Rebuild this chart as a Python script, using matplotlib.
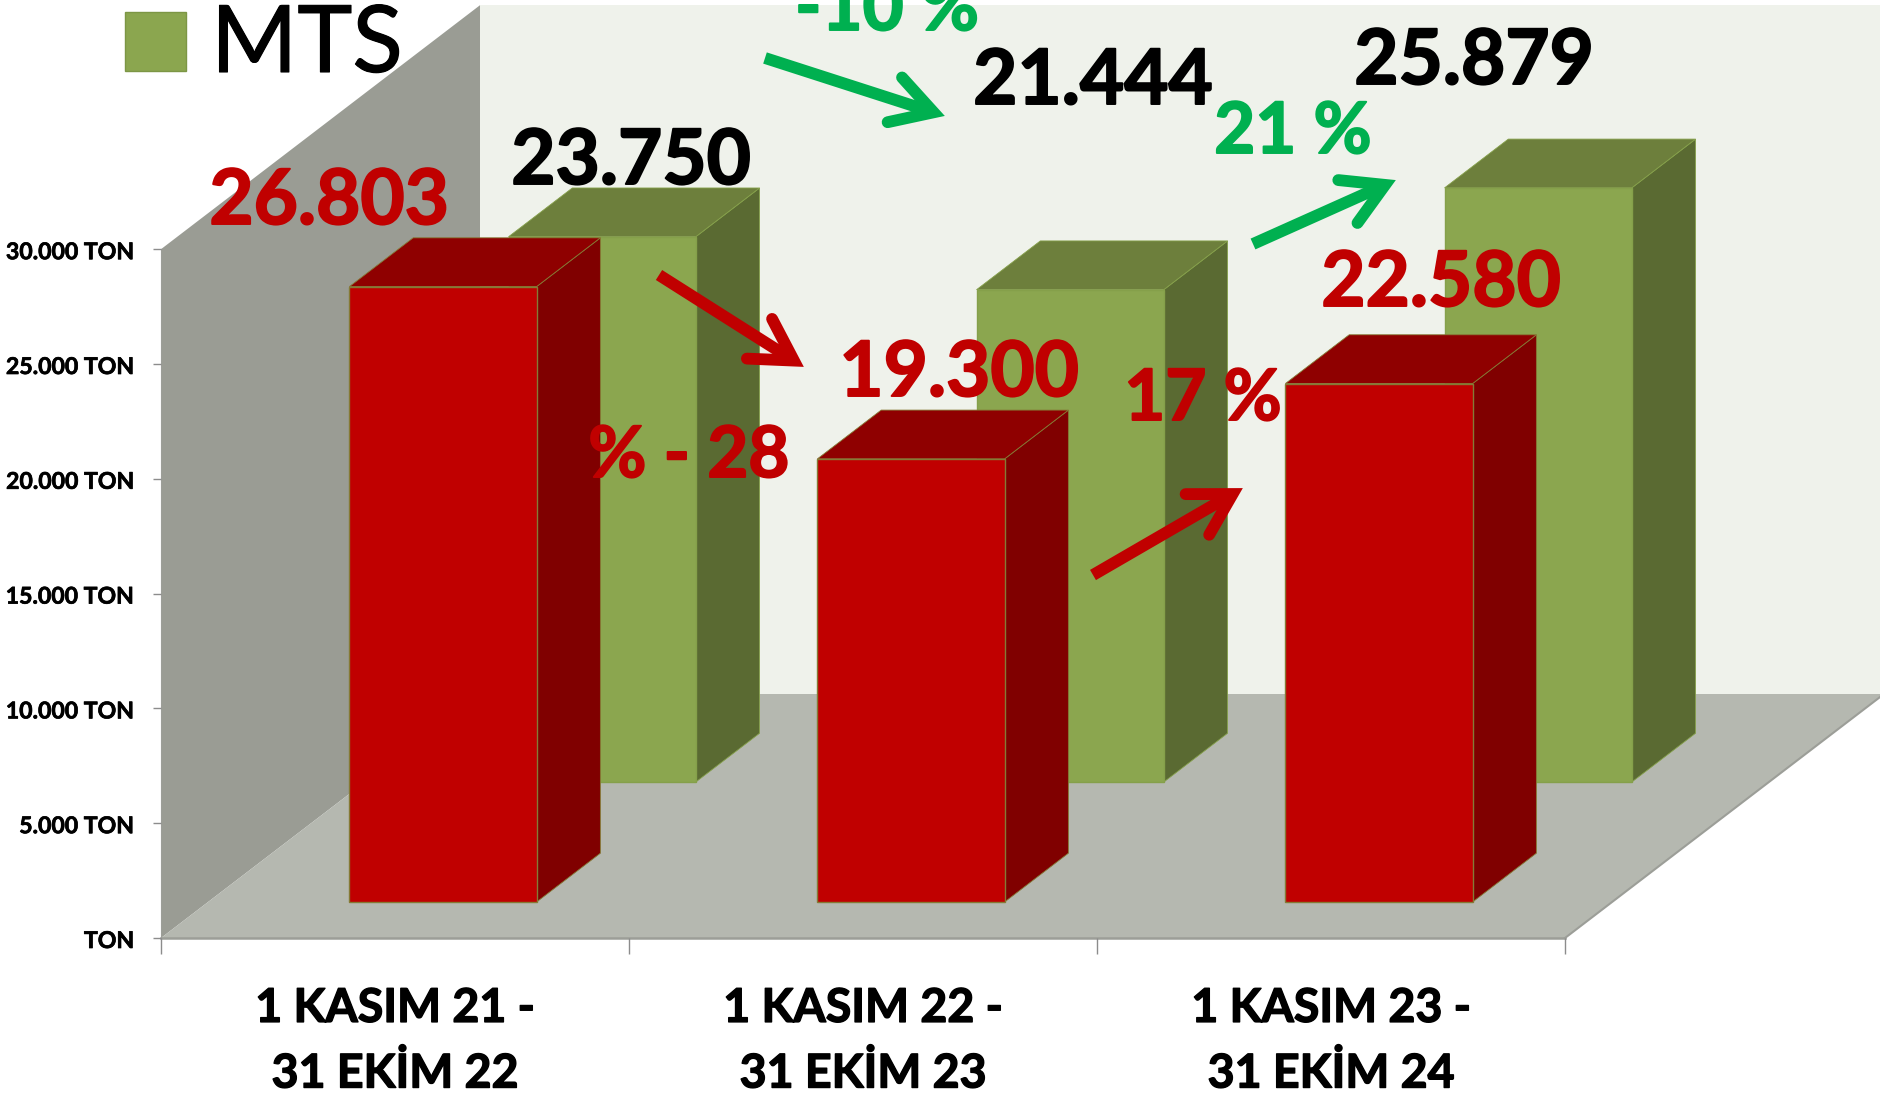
import numpy as np
import matplotlib
matplotlib.use("Agg")
import matplotlib.pyplot as plt
import matplotlib.patheffects as pe
from matplotlib.patches import Polygon
from matplotlib.transforms import ScaledTranslation

plt.rcParams["font.family"] = ["Lato", "DejaVu Sans"]

W, H = 1881, 1095

categories = ["1 KASIM 21 -\n31 EKİM 22", "1 KASIM 22 -\n31 EKİM 23", "1 KASIM 23 -\n31 EKİM 24"]
red_values = [26803, 19300, 22580]
green_values = [23750, 21444, 25879]
y_ticks = [0, 5000, 10000, 15000, 20000, 25000, 30000]
y_labels = ["TON", "5.000 TON", "10.000 TON", "15.000 TON", "20.000 TON", "25.000 TON", "30.000 TON"]
red_labels = ["26.803", "19.300", "22.580"]
green_labels = ["23.750", "21.444", "25.879"]
red_changes = ["% - 28", "17 %"]
green_changes = ["-10 %", "21 %"]
legend_label = "MTS"

# pixel layout of the fake 3d box
X0, Y0 = 161, 938
CAT_PX = 468
TON_PX = 114.8 / 5000
DEPTH_X = 319 / CAT_PX
DEPTH_Y = 244 / TON_PX


def proj(x, h, d):
    # category position, height in tons, depth 0..1 -> flat data coords
    return (x + d * DEPTH_X, h + d * DEPTH_Y)


def box(ax, x, width, h, d0, d1, front, side, top, edge):
    ax.add_patch(Polygon([proj(x + width, 0, d0), proj(x + width, 0, d1), proj(x + width, h, d1), proj(x + width, h, d0)],
                         fc=side, ec=edge, lw=0.6))
    ax.add_patch(Polygon([proj(x, h, d0), proj(x + width, h, d0), proj(x + width, h, d1), proj(x, h, d1)],
                         fc=top, ec=edge, lw=0.6))
    ax.add_patch(Polygon([proj(x, 0, d0), proj(x + width, 0, d0), proj(x + width, h, d0), proj(x, h, d0)],
                         fc=front, ec=edge, lw=1.0))


def arrow(ov, x0, y0, x1, y1, color, lw=8.5, barb=47, spread=30):
    ang = np.arctan2(y0 - y1, x0 - x1)
    a1 = ang + np.radians(spread)
    a2 = ang - np.radians(spread)
    # x1, y1 is the outer tip, the mitre sticks out past the path corner
    cx = x1 + 12 * np.cos(ang)
    cy = y1 + 12 * np.sin(ang)
    ov.plot([x0, cx], [y0, cy], color=color, lw=lw, solid_capstyle="butt")
    ov.plot([cx + barb * np.cos(a1), cx, cx + barb * np.cos(a2)],
            [cy + barb * np.sin(a1), cy, cy + barb * np.sin(a2)],
            color=color, lw=lw, solid_capstyle="round", solid_joinstyle="miter")


def heavy(t, color, lw=1.4):
    # Lato bold is lighter than the original lettering
    t.set_path_effects([pe.withStroke(linewidth=lw, foreground=color)])


fig = plt.figure(figsize=(W / 100, H / 100), dpi=100, facecolor="white")
ax = fig.add_axes([0, 0, 1, 1])
ax.set_xlim(-X0 / CAT_PX, (W - X0) / CAT_PX)
ax.set_ylim(-(H - Y0) / TON_PX, Y0 / TON_PX)
ax.patch.set_visible(False)

# walls and floor
top_v = y_ticks[-1]
n = len(categories)
ax.add_patch(Polygon([proj(0, 0, 1), proj(n, 0, 1), proj(n, top_v, 1), proj(0, top_v, 1)], fc="#EFF2EB", ec="none"))
ax.add_patch(Polygon([proj(0, 0, 0), proj(0, 0, 1), proj(0, top_v, 1), proj(0, top_v, 0)], fc="#9A9C94", ec="none"))
ax.add_patch(Polygon([proj(0, 0, 0), proj(n, 0, 0), proj(n, 0, 1), proj(0, 0, 1)], fc="#B5B8B0", ec="none"))
ax.plot(*zip(proj(n, 0, 0), proj(n, 0, 1)), color="#9C9E98", lw=1.5)

for i, v in enumerate(green_values):
    box(ax, i + 0.307, 0.4, v, 0.639, 0.839, "#8BA64F", "#5A6A32", "#6D7F3C", "#85A04A")
for i, v in enumerate(red_values):
    box(ax, i + 0.302, 0.4, v, 0.1475, 0.3475, "#C00000", "#800000", "#8F0000", "#857A35")

# axis lines and ticks
for s in ["top", "right"]:
    ax.spines[s].set_visible(False)
ax.spines["left"].set_position(("data", 0))
ax.spines["left"].set_bounds(0, top_v)
ax.spines["bottom"].set_position(("data", 0))
ax.spines["bottom"].set_bounds(0, n)
ax.spines["left"].set_color("#9C9E98")
ax.spines["bottom"].set_color("#9C9E98")
ax.spines["bottom"].set_linewidth(1.8)
ax.set_yticks(y_ticks)
ax.set_yticklabels(y_labels, fontsize=16.6, fontweight="bold", color="black")
ax.tick_params(axis="y", length=5.8, width=1, color="#8C8C8C", pad=13.5)
ax.set_xticks(range(n + 1))
ax.set_xticklabels([])
ax.tick_params(axis="x", which="major", length=11.5, width=1, color="#8C8C8C")
ax.set_xticks(np.arange(n) + 0.5, minor=True)
ax.set_xticklabels(categories, minor=True, fontsize=33.5, fontweight="bold", linespacing=1.6)
ax.tick_params(axis="x", which="minor", length=0, pad=34.5)
ax.set_axisbelow(False)

shift = ScaledTranslation(0, -1.5 / 100, fig.dpi_scale_trans)
for t in ax.get_yticklabels():
    t.set_transform(t.get_transform() + shift)
    heavy(t, "black", 0.5)
for t in ax.get_xticklabels(minor=True):
    heavy(t, "black", 1.0)

# overlay in image pixels for the hand placed labels and arrows
ov = fig.add_axes([0, 0, 1, 1])
ov.set_xlim(0, W)
ov.set_ylim(H, 0)
ov.axis("off")

ov.add_patch(Polygon([(125, 12), (186, 12), (186, 71), (125, 71)], fc="#8BA64F", ec="#7C9645", lw=1))
t = ov.text(211, 72, legend_label, fontsize=67, color="black", ha="left", va="baseline")
heavy(t, "black", 0.8)

red_pos = [(329, 224), (959, 396), (1441, 306)]
green_pos = [(631, 184), (1093, 104), (1474, 84)]
for s, (x, y) in zip(red_labels, red_pos):
    t = ov.text(x, y, s, fontsize=55, fontweight="bold", color="#C00000", ha="center", va="baseline")
    heavy(t, "#C00000")
for s, (x, y) in zip(green_labels, green_pos):
    t = ov.text(x, y, s, fontsize=55, fontweight="bold", color="black", ha="center", va="baseline")
    heavy(t, "black")

red_change_pos = [(689, 477), (1203, 420)]
green_change_pos = [(887, 30), (1293, 153)]
for s, (x, y) in zip(red_changes, red_change_pos):
    t = ov.text(x, y, s, fontsize=51, fontweight="bold", color="#C00000", ha="center", va="baseline")
    heavy(t, "#C00000")
for s, (x, y) in zip(green_changes, green_change_pos):
    t = ov.text(x, y, s, fontsize=51, fontweight="bold", color="#00B050", ha="center", va="baseline")
    heavy(t, "#00B050")

arrow(ov, 765, 58, 945, 116, "#00B050")
arrow(ov, 1253, 244, 1396, 180, "#00B050")
arrow(ov, 659, 275, 804, 367, "#C00000")
arrow(ov, 1093, 575, 1243, 488, "#C00000")

fig.savefig("out.png", dpi=100, facecolor="white")
